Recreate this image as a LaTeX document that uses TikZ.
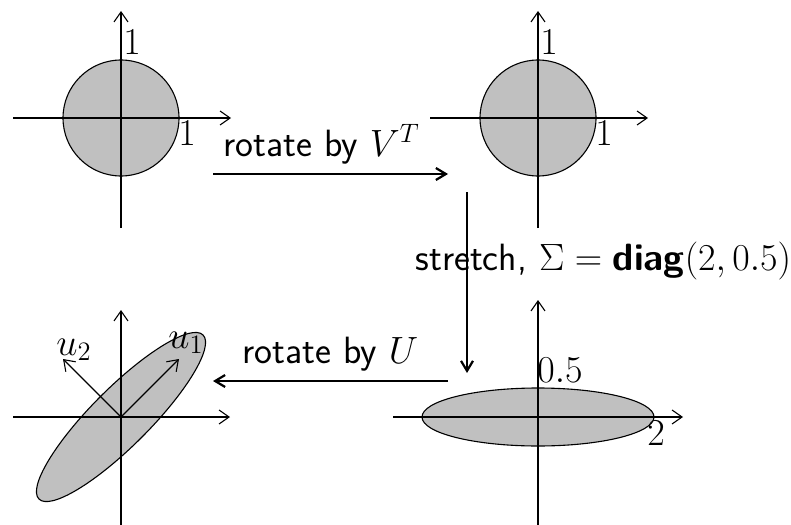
\RequirePackage{fix-cm}
\documentclass[tikz,border=0pt]{standalone}
\usepackage{fontspec}
\usetikzlibrary{arrows.meta}
\definecolor{fillgray}{RGB}{192,192,192}
\tikzset{
  axis/.style={line width=0.55pt,-{Straight Barb[length=5pt,width=7pt,line width=0.55pt]}},
  mapar/.style={line width=1.1pt,-{Straight Barb[length=5pt,width=6pt,line width=1.1pt]}},
  lab/.style={inner sep=0pt,anchor=base west,font=\fontsize{19}{22}\selectfont},
  txt/.style={inner sep=0pt,anchor=base west,font=\fontsize{19}{22}\selectfont\sffamily}
}
\begin{document}
\begin{tikzpicture}[x=0.5pt,y=-0.5pt]
\useasboundingbox (0,0) rectangle (791,524);
% centres
\coordinate (A) at (121,118);
\coordinate (B) at (538,118);
\coordinate (C) at (538,417);
\coordinate (D) at (121,417);
% shapes
\fill[fillgray] (A) circle[radius=29pt];
\fill[fillgray] (B) circle[radius=29pt];
\fill[fillgray] (C) ellipse[x radius=58pt,y radius=14.5pt];
\fill[fillgray,rotate around={45:(D)}] (D) ellipse[x radius=58pt,y radius=14.5pt];
% axes A
\coordinate (Al) at (13,118); \coordinate (Ar) at (231,118);
\coordinate (Ab) at (121,228); \coordinate (At) at (121,11);
\draw[axis] (Al) -- (Ar);
\draw[axis] (Ab) -- (At);
% axes B
\coordinate (Bl) at (430,118); \coordinate (Br) at (648,118);
\coordinate (Bb) at (538,228); \coordinate (Bt) at (538,11);
\draw[axis] (Bl) -- (Br);
\draw[axis] (Bb) -- (Bt);
% axes C
\coordinate (Cl) at (393,417); \coordinate (Cr) at (683,417);
\coordinate (Cb) at (538,526); \coordinate (Ct) at (538,300);
\draw[axis] (Cl) -- (Cr);
\draw[axis] (Cb) -- (Ct);
% axes D
\coordinate (Dl) at (13,417); \coordinate (Dr) at (230,417);
\coordinate (Db) at (121,526); \coordinate (Dt) at (121,310);
\draw[axis] (Dl) -- (Dr);
\draw[axis] (Db) -- (Dt);
% outlines
\draw[line width=0.55pt] (A) circle[radius=29pt];
\draw[line width=0.55pt] (B) circle[radius=29pt];
\draw[line width=0.55pt] (C) ellipse[x radius=58pt,y radius=14.5pt];
\draw[line width=0.55pt,rotate around={45:(D)}] (D) ellipse[x radius=58pt,y radius=14.5pt];
% singular vectors
\coordinate (u1) at (179,359);
\coordinate (u2) at (63,359);
\draw[axis] (D) -- (u1);
\draw[axis] (D) -- (u2);
% labels
\node[lab] (a1) at (123,55) {$1$};
\node[lab] (a2) at (178,145) {$1$};
\node[lab] (b1) at (540,55) {$1$};
\node[lab] (b2) at (595,145) {$1$};
\node[lab] (c1) at (537,382) {$0.5$};
\node[lab] (c2) at (647,445) {$2$};
\node[lab] (lu2) at (56,355) {$u_2$};
\node[lab] (lu1) at (168,348) {$u_1$};
% maps
\coordinate (m1s) at (213,174); \coordinate (m1e) at (448,174);
\coordinate (m2s) at (467,192); \coordinate (m2e) at (467,373);
\coordinate (m3s) at (448,381); \coordinate (m3e) at (213,381);
\draw[mapar] (m1s) -- (m1e);
\draw[mapar] (m2s) -- (m2e);
\draw[mapar] (m3s) -- (m3e);
\node[txt] (t1) at (223,156) {rotate by $V^T$};
\node[txt] (t2) at (415,270) {stretch, $\Sigma=\mbox{\sffamily\bfseries diag}(2,0.5)$};
\node[txt] (t3) at (242,363) {rotate by $U$};
\end{tikzpicture}
\end{document}
